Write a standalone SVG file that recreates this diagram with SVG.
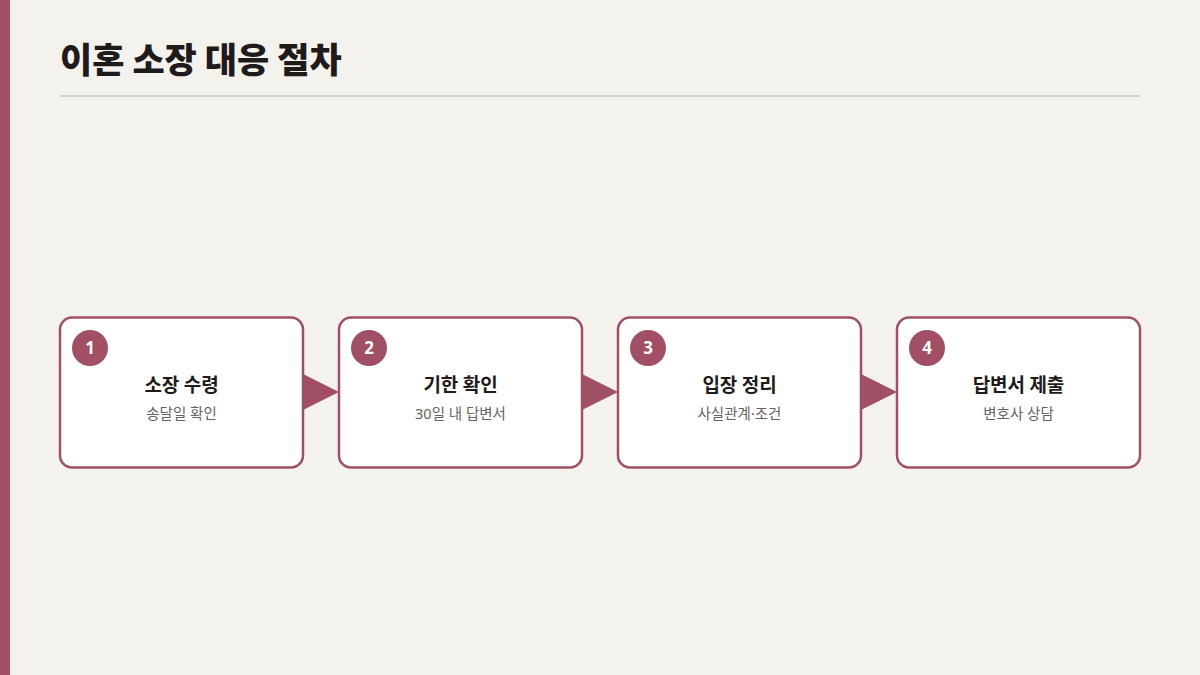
<svg xmlns="http://www.w3.org/2000/svg" width="1200" height="675" viewBox="0 0 1200 675">
<style>
.box{fill:#ffffff;stroke:#a14f65;stroke-width:2.5}
.badge{fill:#a14f65}
.num{font-family:"Noto Sans","Noto Sans CJK KR",sans-serif;font-weight:700;font-size:17px;fill:#ffffff;text-anchor:middle}
.head{font-family:"Noto Sans CJK KR",sans-serif;font-weight:700;font-size:19px;fill:#1f1b1b;text-anchor:middle}
.sub{font-family:"Noto Sans","Noto Sans CJK KR",sans-serif;font-weight:400;font-size:14.5px;fill:#666262;text-anchor:middle}
.arrow{fill:#a14f65}
</style>
<rect x="0" y="0" width="1200" height="675" fill="#f4f2ed"/>
<rect x="0" y="0" width="10" height="675" fill="#a14f65"/>
<text x="60" y="73" font-family="Noto Sans CJK KR, sans-serif" font-weight="900" font-size="35" fill="#1f1b1b">이혼 소장 대응 절차</text>
<line x1="60" y1="96" x2="1140" y2="96" stroke="#d6d3cc" stroke-width="2"/>
<g id="connectors">
<polygon class="arrow" points="301,373 339,392 301,411"/>
<polygon class="arrow" points="580,373 618,392 580,411"/>
<polygon class="arrow" points="859,373 897,392 859,411"/>
</g>
<g id="node1">
<rect class="box" x="60" y="317.5" width="243" height="150" rx="12"/>
<circle class="badge" cx="90" cy="348" r="18"/>
<text class="num" x="90" y="354">1</text>
<text class="head" x="181.5" y="392">소장 수령</text>
<text class="sub" x="181.5" y="419">송달일 확인</text>
</g>
<g id="node2">
<rect class="box" x="339" y="317.5" width="243" height="150" rx="12"/>
<circle class="badge" cx="369" cy="348" r="18"/>
<text class="num" x="369" y="354">2</text>
<text class="head" x="460.5" y="392">기한 확인</text>
<text class="sub" x="460.5" y="419">30일 내 답변서</text>
</g>
<g id="node3">
<rect class="box" x="618" y="317.5" width="243" height="150" rx="12"/>
<circle class="badge" cx="648" cy="348" r="18"/>
<text class="num" x="648" y="354">3</text>
<text class="head" x="739.5" y="392">입장 정리</text>
<text class="sub" x="739.5" y="419">사실관계·조건</text>
</g>
<g id="node4">
<rect class="box" x="897" y="317.5" width="243" height="150" rx="12"/>
<circle class="badge" cx="927" cy="348" r="18"/>
<text class="num" x="927" y="354">4</text>
<text class="head" x="1018.5" y="392">답변서 제출</text>
<text class="sub" x="1018.5" y="419">변호사 상담</text>
</g>
</svg>
